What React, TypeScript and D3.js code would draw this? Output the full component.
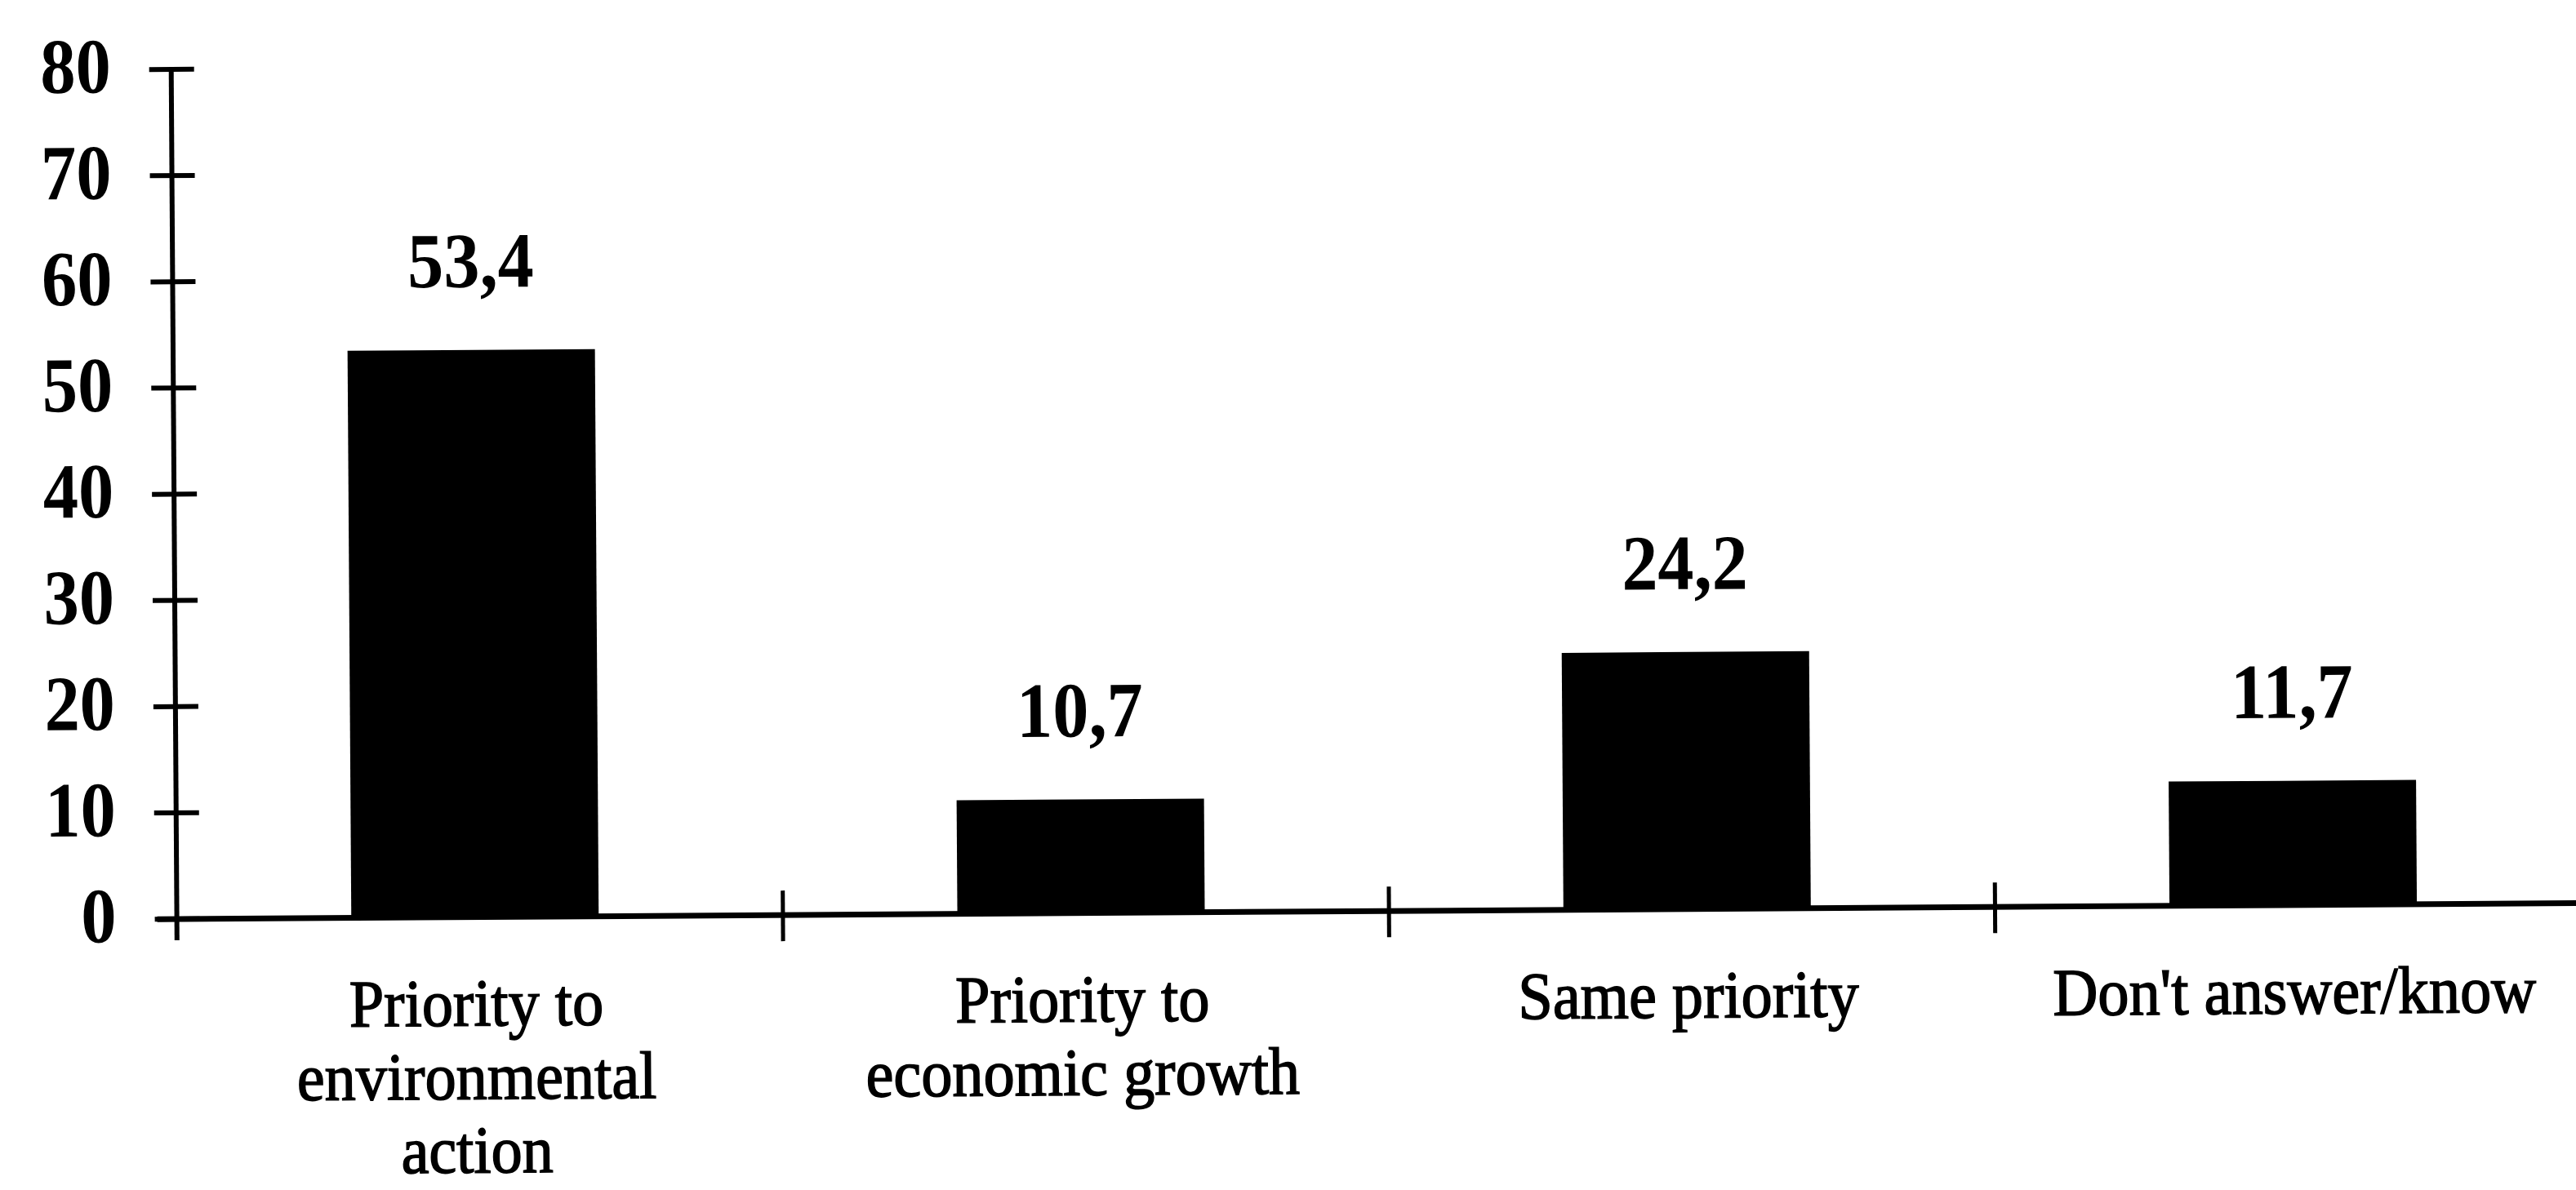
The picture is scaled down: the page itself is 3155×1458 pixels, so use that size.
import React from "react";
import * as d3 from "d3";

// Survey answers: environment vs. economic growth priority (%)
const categories: string[][] = [
  ["Priority to", "environmental", "action"],
  ["Priority to", "economic growth"],
  ["Same priority"],
  ["Don't answer/know"],
];
const values: number[] = [53.4, 10.7, 24.2, 11.7];
const valueLabels: string[] = ["53,4", "10,7", "24,2", "11,7"];
const yTicks: number[] = [0, 10, 20, 30, 40, 50, 60, 70, 80];

const W = 3155;
const H = 1458;
const FONT = "'Liberation Serif', 'Times New Roman', serif";

export default function App() {
  const keys = categories.map((_, i) => String(i));
  const x = d3.scaleBand<string>().domain(keys).range([214, 214 + 4 * 742.3]).padding(0);
  const y = d3.scaleLinear().domain([0, 80]).range([1117, 76]);
  const bw = x.bandwidth();
  const barW = 303;
  const barShift = -6;
  const axisX = x.range()[0];
  const y0 = y(0);

  return (
    <svg
      width={W}
      height={H}
      viewBox={`0 0 ${W} ${H}`}
      style={{ position: "absolute", left: 0, top: 0, display: "block", background: "#fff" }}
    >
      <rect x={0} y={0} width={W} height={H} fill="#fff" />
      <g transform={`rotate(-0.38 ${W / 2} ${H / 2})`} fill="#000" stroke="none">
        {/* bars */}
        {values.map((v, i) => {
          const cx = (x(keys[i]) as number) + bw / 2 + barShift;
          return (
            <rect key={`b${i}`} x={cx - barW / 2} y={y(v)} width={barW} height={y0 - y(v)} fill="#000" />
          );
        })}

        {/* value labels */}
        {values.map((v, i) => {
          const cx = (x(keys[i]) as number) + bw / 2 + barShift;
          return (
            <text
              key={`v${i}`}
              transform={`translate(${cx},${y(v) - 77}) scale(0.92,1)`}
              textAnchor="middle"
              fontFamily={FONT}
              fontWeight="bold"
              fontSize={96}
            >
              {valueLabels[i]}
            </text>
          );
        })}

        {/* y axis */}
        <line x1={axisX} x2={axisX} y1={y(80)} y2={y0 + 26} stroke="#000" strokeWidth={6} />
        {yTicks.map((t) => (
          <g key={`t${t}`}>
            <line x1={axisX - 27} x2={axisX + 28} y1={y(t)} y2={y(t)} stroke="#000" strokeWidth={6} />
            <text
              transform={`translate(140,${y(t) - 4 + 32}) scale(0.9,1)`}
              textAnchor="end"
              fontFamily={FONT}
              fontWeight="bold"
              fontSize={96}
            >
              {t}
            </text>
          </g>
        ))}

        {/* x axis */}
        <line x1={axisX - 24} x2={W + 40} y1={y0} y2={y0} stroke="#000" strokeWidth={7} />
        {keys.slice(1).concat(["end"]).map((k, i) => {
          const xx = k === "end" ? x.range()[1] : (x(k) as number);
          return (
            <line key={`xt${i}`} x1={xx} x2={xx} y1={y0 - 30} y2={y0 + 32} stroke="#000" strokeWidth={5} />
          );
        })}

        {/* category labels */}
        {categories.map((lines, i) => {
          const cx = (x(keys[i]) as number) + bw / 2 - 5;
          return lines.map((ln, j) => (
            <text
              key={`c${i}-${j}`}
              transform={`translate(${cx},${1250 + j * 90}) scale(0.93,1)`}
              textAnchor="middle"
              fontFamily={FONT}
              fontSize={82}
              stroke="#000"
              strokeWidth={1.6}
            >
              {ln}
            </text>
          ));
        })}
      </g>
    </svg>
  );
}
